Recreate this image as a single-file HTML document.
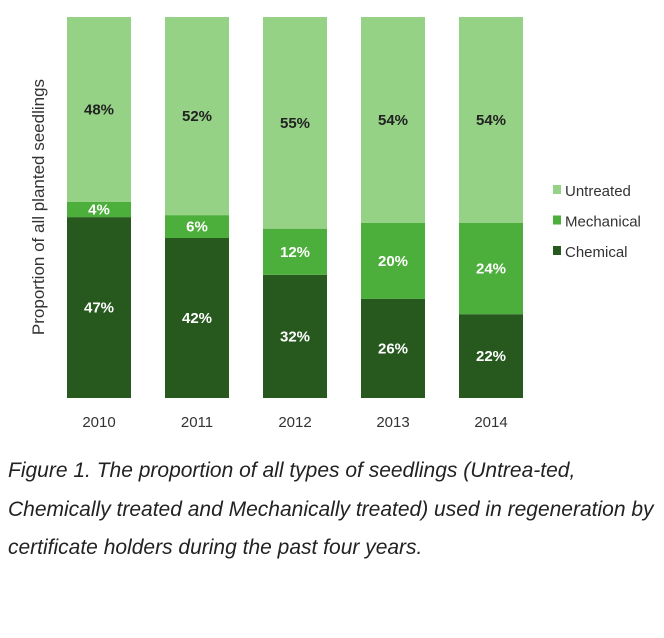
<!DOCTYPE html>
<html><head><meta charset="utf-8"><style>
body{margin:0;background:#fff;width:664px;height:638px;overflow:hidden;font-family:"Liberation Sans",sans-serif}
#cap{position:absolute;left:8px;top:452px;width:650px;font-style:italic;font-size:21px;line-height:38.5px;color:#222}
</style></head><body>
<svg width="664" height="440" style="position:absolute;left:0;top:0">
<text transform="translate(44,207) rotate(-90)" text-anchor="middle" font-size="17" fill="#333" font-family="Liberation Sans, sans-serif">Proportion of all planted seedlings</text>
<g id="bars"></g>
<g id="legend" font-size="15" fill="#333"></g>
</svg>
<div id="cap">Figure 1. The proportion of all types of seedlings (Untrea-ted, Chemically treated and Mechanically treated) used in regeneration by certificate holders during the past four years.</div>
<script>
const years=["2010","2011","2012","2013","2014"];
const chemical=[47,42,32,26,22];
const mechanical=[4,6,12,20,24];
const untreated=[48,52,55,54,54];
const seriesNames=["Chemical","Mechanical","Untreated"];
const colors=["#27591f","#4cae3b","#95d286"];
const NS="http://www.w3.org/2000/svg";
const top0=17,bot=398,x0=67,pitch=98,bw=64;
function xPos(i){return x0+i*pitch;}
function yH(v,t){return (bot-top0)*v/t;}
const g=document.getElementById("bars");
const series=[chemical,mechanical,untreated];
years.forEach((yr,i)=>{
  const tot=chemical[i]+mechanical[i]+untreated[i];
  let y=bot;
  series.forEach((s,k)=>{
    const h=yH(s[i],tot);y-=h;
    const r=document.createElementNS(NS,"rect");
    
    
    r.setAttribute("x",xPos(i));r.setAttribute("y",y);r.setAttribute("width",bw);r.setAttribute("height",h);r.setAttribute("fill",colors[k]);
    g.appendChild(r);
    const t=document.createElementNS(NS,"text");
    
    
    t.setAttribute("x",xPos(i)+bw/2);t.setAttribute("y",y+h/2+5);t.setAttribute("text-anchor","middle");
    t.setAttribute("font-size","15");t.setAttribute("font-weight","bold");t.setAttribute("fill",k==2?"#222":"#fff");
    t.textContent=s[i]+"%";g.appendChild(t);
  });
  const l=document.createElementNS(NS,"text");
  
  
  l.setAttribute("x",xPos(i)+bw/2);l.setAttribute("y",427);l.setAttribute("text-anchor","middle");l.setAttribute("font-size","15");l.setAttribute("fill","#333");
  l.textContent=yr;g.appendChild(l);
});
const lg=document.getElementById("legend");
[2,1,0].forEach((k,j)=>{
  const y=191+j*30.5;
  const r=document.createElementNS(NS,"rect");
  
  
  r.setAttribute("x",553);r.setAttribute("y",y-6);r.setAttribute("width",8);r.setAttribute("height",9);r.setAttribute("fill",colors[k]);
  lg.appendChild(r);
  const t=document.createElementNS(NS,"text");
  
  
  t.setAttribute("x",565);t.setAttribute("y",y+5);t.textContent=seriesNames[k];
  lg.appendChild(t);
});
</script>
</body></html>
